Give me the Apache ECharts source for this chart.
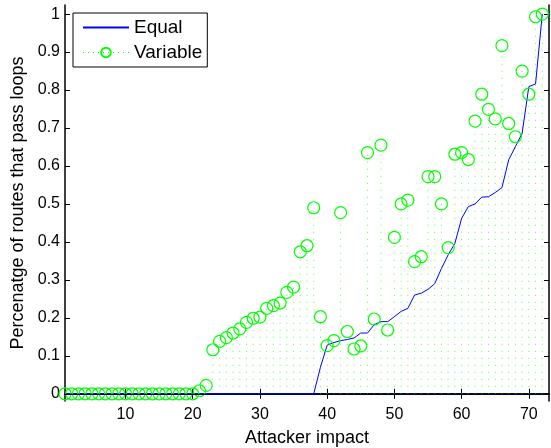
<!DOCTYPE html>
<html>
<head>
<meta charset="utf-8">
<script src="https://cdn.jsdelivr.net/npm/echarts@6/dist/echarts.min.js"></script>
<style>
  html, body { margin: 0; padding: 0; background: #fff; }
  #chart { width: 551px; height: 448px; }
</style>
</head>
<body>
<div id="chart"></div>
<script>
// attacker impact on x, share of routes through loops on y
var impact = [];
for (var i = 1; i <= 72; i++) impact.push(i);

var equalVals = [
  0, 0, 0, 0, 0, 0, 0, 0, 0, 0,
  0, 0, 0, 0, 0, 0, 0, 0, 0, 0,
  0, 0, 0, 0, 0, 0, 0, 0, 0, 0,
  0, 0, 0, 0, 0, 0, 0, 0,
  0.07, 0.128, 0.135, 0.14, 0.143, 0.147, 0.16, 0.16, 0.182, 0.19,
  0.19, 0.203, 0.217, 0.225, 0.26, 0.265, 0.275, 0.29, 0.33, 0.366,
  0.396, 0.462, 0.493, 0.5, 0.518, 0.519, 0.53, 0.543, 0.616, 0.651,
  0.686, 0.809, 0.816, 1.0
];

var variableVals = [
  0, 0, 0, 0, 0, 0, 0, 0, 0, 0,
  0, 0, 0, 0, 0, 0, 0, 0, 0, 0,
  0.008, 0.022, 0.116, 0.138, 0.148, 0.16, 0.171, 0.188, 0.199, 0.202,
  0.225, 0.232, 0.239, 0.267, 0.281, 0.374, 0.39, 0.49, 0.203, 0.127,
  0.14, 0.477, 0.164, 0.118, 0.126, 0.635, 0.197, 0.655, 0.168, 0.412,
  0.5, 0.51, 0.348, 0.361, 0.572, 0.572, 0.5, 0.385, 0.631, 0.635,
  0.617, 0.718, 0.789, 0.749, 0.724, 0.917, 0.712, 0.677, 0.85, 0.789,
  0.993, 1.0
];

var xTicks = [10, 20, 30, 40, 50, 60, 70];
var yTicks = [0, 0.1, 0.2, 0.3, 0.4, 0.5, 0.6, 0.7, 0.8, 0.9, 1];

function pairs(xs, ys) {
  var out = [];
  for (var k = 0; k < xs.length; k++) out.push([xs[k], ys[k]]);
  return out;
}

var font = "'Liberation Sans', Arial, Helvetica, sans-serif";
var axisLine = { show: true, lineStyle: { color: '#000', width: 1.5 } };

var chart = echarts.init(document.getElementById('chart'));
chart.setOption({
  animation: false,
  backgroundColor: '#fff',
  textStyle: { fontFamily: font },
  grid: { left: 65, right: 2, top: 5, bottom: 47, outerBoundsMode: 'none', containLabel: false },
  legend: {
    orient: 'vertical',
    left: 73,
    top: 13,
    padding: [5, 5, 5, 9],
    itemGap: 6,
    itemWidth: 46,
    itemHeight: 12,
    backgroundColor: '#fff',
    borderColor: '#000',
    borderWidth: 1,
    borderRadius: 0,
    textStyle: { fontFamily: font, fontSize: 19, color: '#000', lineHeight: 19 },
    data: [
      { name: 'Equal', itemStyle: { opacity: 0 } },
      { name: 'Variable', lineStyle: { opacity: 1, type: [1, 4], color: '#00ff00', width: 1 } }
    ]
  },
  xAxis: [{
    type: 'value', min: 1, max: 73, position: 'bottom',
    name: 'Attacker impact', nameLocation: 'middle', nameGap: 28,
    nameTextStyle: { fontFamily: font, fontSize: 18, color: '#000' },
    axisLine: axisLine,
    axisTick: { inside: true, length: 5, customValues: xTicks, lineStyle: { color: '#000' } },
    axisLabel: { customValues: xTicks, fontFamily: font, fontSize: 16, color: '#000', margin: 6 },
    splitLine: { show: false }
  }, {
    type: 'value', min: 1, max: 73, position: 'top',
    axisLine: axisLine,
    axisTick: { inside: true, length: 5, customValues: xTicks, lineStyle: { color: '#000' } },
    axisLabel: { show: false },
    splitLine: { show: false }
  }],
  yAxis: [{
    type: 'value', min: -0.019, max: 1.024, position: 'left',
    name: 'Percenatge of routes that pass loops', nameLocation: 'middle', nameGap: 31,
    nameTextStyle: { fontFamily: font, fontSize: 18, color: '#000' },
    axisLine: axisLine,
    axisTick: { inside: true, length: 5, customValues: yTicks, lineStyle: { color: '#000' } },
    axisLabel: { customValues: yTicks, fontFamily: font, fontSize: 16, color: '#000', margin: 5,
      formatter: function (v) { return String(v); } },
    splitLine: { show: false }
  }, {
    type: 'value', min: -0.019, max: 1.024, position: 'right',
    axisLine: axisLine,
    axisTick: { inside: true, length: 5, customValues: yTicks, lineStyle: { color: '#000' } },
    axisLabel: { show: false },
    splitLine: { show: false }
  }],
  series: [{
    // dotted drops from each variable point to zero
    name: 'drops',
    type: 'custom',
    silent: true,
    data: pairs(impact, variableVals),
    renderItem: function (params, api) {
      var x = api.value(0), y = api.value(1);
      var p0 = api.coord([x, 0]);
      var p1 = api.coord([x, y]);
      return {
        type: 'line',
        shape: { x1: p0[0], y1: p0[1], x2: p1[0], y2: p1[1] },
        style: { stroke: '#00ff00', opacity: 0.7, lineWidth: 1, lineDash: [1, 6] }
      };
    },
    z: 1
  }, {
    name: 'Equal',
    type: 'line',
    data: pairs(impact, equalVals),
    symbol: 'none',
    lineStyle: { color: '#0000ff', width: 1 },
    itemStyle: { color: '#0000ff' },
    markLine: {
      silent: true,
      symbol: 'none',
      label: { show: false },
      lineStyle: { color: '#000060', width: 1, type: 'solid' },
      data: [{ yAxis: 0 }]
    },
    z: 3
  }, {
    name: 'Variable',
    type: 'line',
    data: pairs(impact, variableVals),
    symbol: 'circle',
    symbolSize: 12,
    lineStyle: { opacity: 0, width: 0 },
    itemStyle: { color: 'transparent', borderColor: '#00ff00', borderWidth: 1.2 },
    z: 4
  }]
});
</script>
</body>
</html>
